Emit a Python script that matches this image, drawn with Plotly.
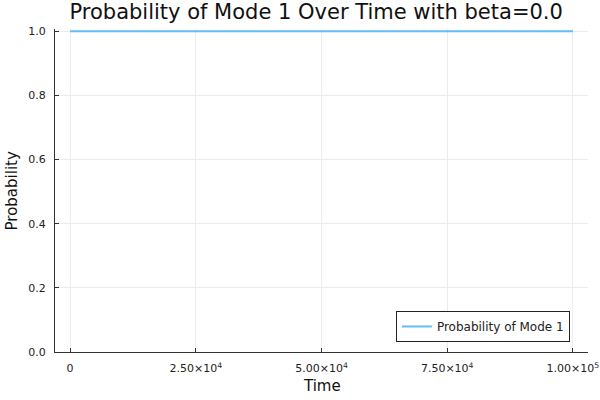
import plotly.graph_objects as go

time = [0, 10000, 20000, 30000, 40000, 50000, 60000, 70000, 80000, 90000, 100000]
prob_mode1 = [1.0, 1.0, 1.0, 1.0, 1.0, 1.0, 1.0, 1.0, 1.0, 1.0, 1.0]

x_tickvals = [0, 25000, 50000, 75000, 100000]
x_ticktext = ["0", "2.50×10<sup>4</sup>", "5.00×10<sup>4</sup>", "7.50×10<sup>4</sup>", "1.00×10<sup>5</sup>"]
y_tickvals = [0.0, 0.2, 0.4, 0.6, 0.8, 1.0]
y_ticktext = ["0.0", "0.2", "0.4", "0.6", "0.8", "1.0"]

fig = go.Figure()
fig.add_trace(go.Scatter(x=time, y=prob_mode1, mode="lines", name="Probability of Mode 1",
                         line=dict(color="#62bdf8", width=2)))

axis_common = dict(showgrid=True, gridcolor="#ececec", gridwidth=1, zeroline=False,
                   showline=True, linecolor="#333333", linewidth=1, automargin=False,
                   ticks="inside", ticklen=4, tickcolor="#333333",
                   tickfont=dict(family="DejaVu Sans", size=11, color="#222222"))

title_font = dict(family="DejaVu Sans", size=15, color="#111111")

fig.update_layout(
    width=600, height=400,
    paper_bgcolor="white", plot_bgcolor="white",
    margin=dict(l=55, r=12, t=29, b=48, autoexpand=False),
    title=dict(text="Probability of Mode 1 Over Time with beta=0.0", x=0.527, xanchor="center",
               y=0.99, yanchor="top",
               font=dict(family="DejaVu Sans", size=21, color="#111111")),
    xaxis=dict(range=[-3000, 103000], tickvals=x_tickvals, ticktext=x_ticktext, ticklabelstandoff=6,
               **axis_common),
    yaxis=dict(range=[0, 1.007], tickvals=y_tickvals, ticktext=y_ticktext, ticklabelstandoff=6,
               **axis_common),
    legend=dict(x=0.966, y=0.031, xanchor="right", yanchor="bottom",
                bordercolor="#222222", borderwidth=1, bgcolor="white",
                font=dict(family="DejaVu Sans", size=12, color="#222222")),
    showlegend=True,
    annotations=[
        dict(text="Time", xref="paper", yref="paper", x=0.5, y=-0.106,
             xanchor="center", yanchor="middle", showarrow=False, font=title_font),
        dict(text="Probability", xref="paper", yref="paper", x=-0.0807, y=0.5,
             xanchor="center", yanchor="middle", textangle=-90, showarrow=False, font=title_font),
    ],
)

fig.write_html("out.html", config={"displayModeBar": False},
               post_script="document.body.style.margin='0';document.body.style.overflow='hidden';")
